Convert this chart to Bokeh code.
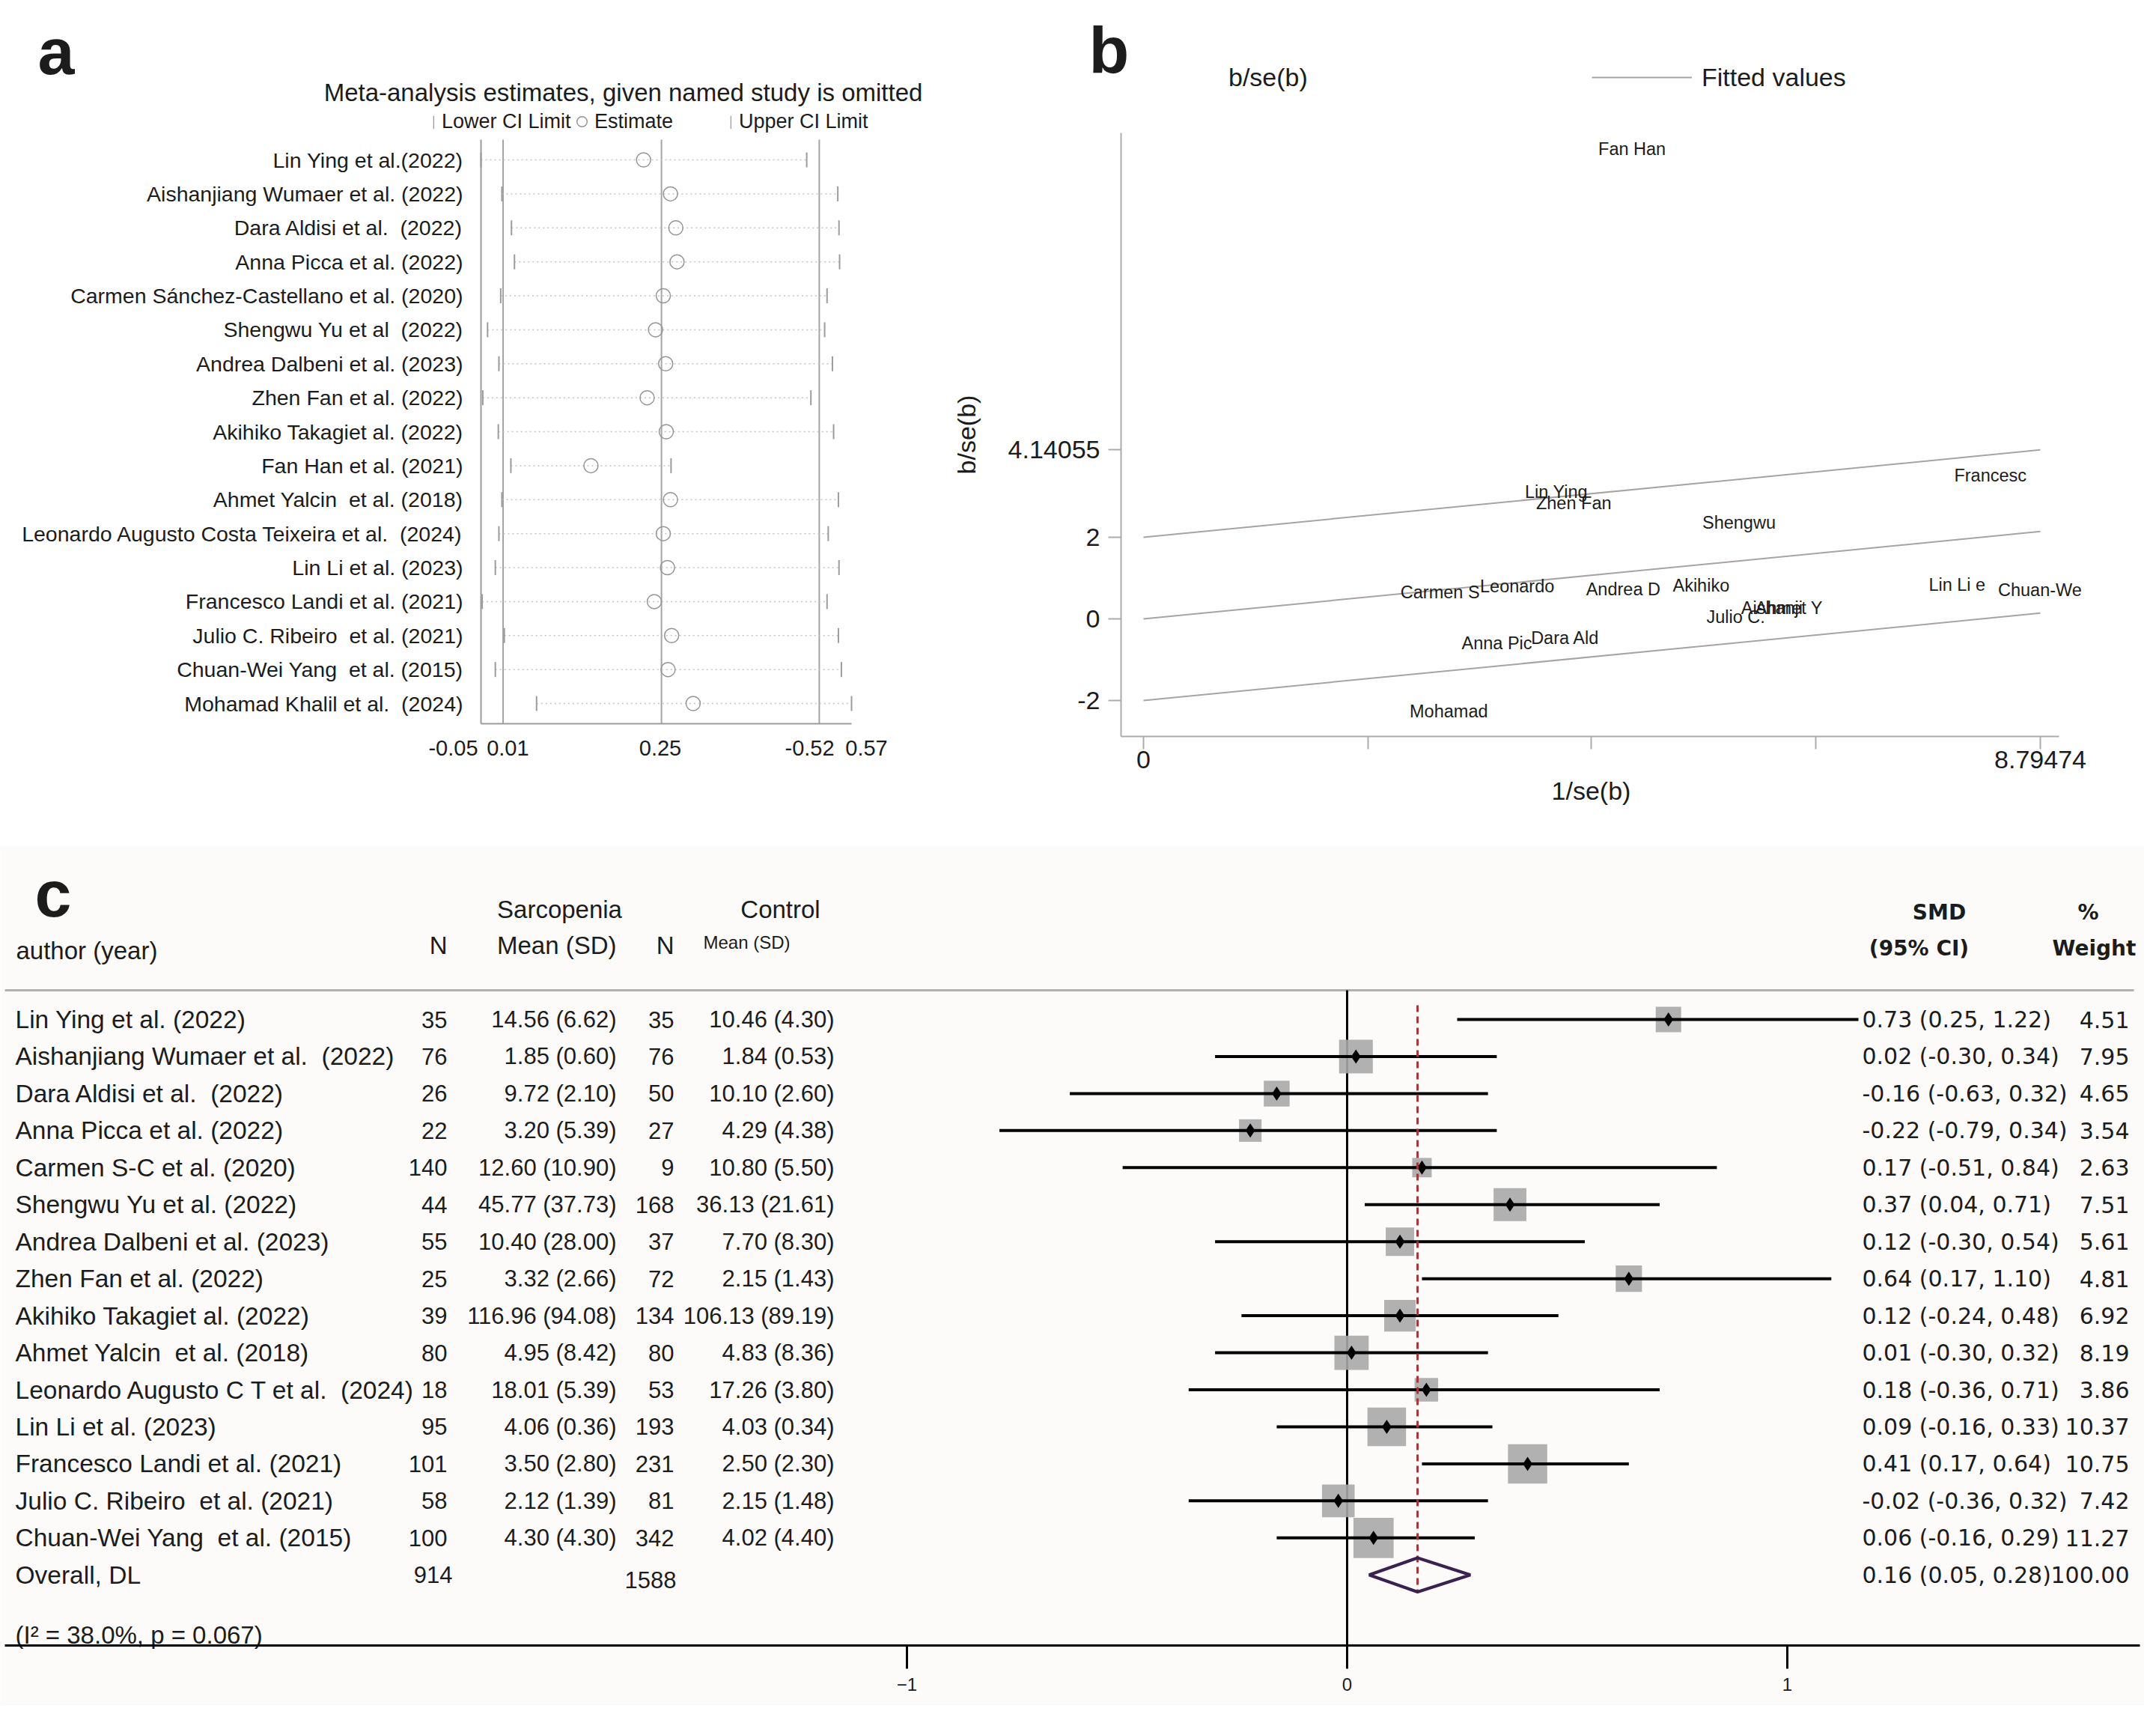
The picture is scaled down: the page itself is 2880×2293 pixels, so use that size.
import numpy as np
from bokeh.plotting import figure
from bokeh.models import Range1d, FixedTicker, Legend, LegendItem, LinearAxis
from bokeh.layouts import column, row
from bokeh.embed import file_html
from bokeh.resources import INLINE
from bokeh.core.properties import value

FONT = "Liberation Sans"
FONT_W = "DejaVu Sans"
INK = "#1c1c1c"
NB = "\u00a0"   # keeps the double spaces of the original labels

# ---------------- Panel a : leave-one-out (metaninf) ----------------
a_studies = [
    "Lin Ying et al.(2022)", "Aishanjiang Wumaer et al. (2022)", "Dara Aldisi et al. " + NB + "(2022)",
    "Anna Picca et al. (2022)", "Carmen Sánchez-Castellano et al. (2020)", "Shengwu Yu et al " + NB + "(2022)",
    "Andrea Dalbeni et al. (2023)", "Zhen Fan et al. (2022)", "Akihiko Takagiet al. (2022)",
    "Fan Han et al. (2021)", "Ahmet Yalcin " + NB + "et al. (2018)",
    "Leonardo Augusto Costa Teixeira et al. " + NB + "(2024)",
    "Lin Li et al. (2023)", "Francesco Landi et al. (2021)", "Julio C. Ribeiro " + NB + "et al. (2021)",
    "Chuan-Wei Yang " + NB + "et al. (2015)", "Mohamad Khalil et al. " + NB + "(2024)",
]
a_lower = [-0.050, -0.015, 0.001, 0.006, -0.017, -0.039, -0.020, -0.047, -0.021,
           0.000, -0.015, -0.020, -0.026, -0.048, -0.011, -0.026, 0.043]
a_est = [0.222, 0.267, 0.276, 0.278, 0.255, 0.242, 0.259, 0.228, 0.260,
         0.134, 0.267, 0.255, 0.262, 0.240, 0.269, 0.263, 0.305]
a_upper = [0.495, 0.547, 0.549, 0.550, 0.529, 0.525, 0.538, 0.502, 0.540,
           0.268, 0.548, 0.531, 0.549, 0.529, 0.548, 0.553, 0.570]
a_overall = [-0.013, 0.252, 0.516]          # overall lower CI, estimate, upper CI lines
a_xmin, a_xmax = -0.05, 0.57
a_tick_vals = [-0.05, 0.01, 0.25, 0.52, 0.57]
a_tick_text = ["-0.05", "0.01", "0.25", "-0.52", "0.57"]
a_title = "Meta-analysis estimates, given named study is omitted"
a_legend = ["Lower CI Limit", "Estimate", "Upper CI Limit"]

# ---------------- Panel b : Galbraith plot ----------------
b_names = ["Fan Han", "Lin Ying", "Zhen Fan", "Francesc", "Shengwu", "Carmen S", "Leonardo",
           "Andrea D", "Akihiko", "Lin Li e", "Chuan-We", "Julio C.", "Aishanji", "Ahmet Y",
           "Anna Pic", "Dara Ald", "Mohamad"]
b_invse = [4.46, 3.74, 3.85, 7.95, 5.48, 2.52, 3.30, 4.34, 5.19, 7.70, 8.38, 5.52, 5.86, 6.00,
           3.12, 3.80, 2.61]
b_z = [11.52, 3.11, 2.83, 3.51, 2.35, 0.65, 0.80, 0.72, 0.81, 0.84, 0.71, 0.04, 0.27, 0.27,
       -0.59, -0.46, -2.27]
b_xmax = 8.79474
b_fit_rise = 2.14055            # fitted value at x max (4.14055 - 2)
b_bands = [2, 0, -2]
b_yticks = [-2, 0, 2, 4.14055]
b_ytick_text = ["-2", "0", "2", "4.14055"]
b_xticks = [0, 2.2, 4.39, 6.59, 8.79474]
b_xtick_text = ["0", "", "", "", "8.79474"]

# ---------------- Panel c : forest plot ----------------
c_names = ["Lin Ying et al. (2022)", "Aishanjiang Wumaer et al. " + NB + "(2022)",
           "Dara Aldisi et al. " + NB + "(2022)", "Anna Picca et al. (2022)", "Carmen S-C et al. (2020)",
           "Shengwu Yu et al. (2022)", "Andrea Dalbeni et al. (2023)", "Zhen Fan et al. (2022)",
           "Akihiko Takagiet al. (2022)", "Ahmet Yalcin " + NB + "et al. (2018)",
           "Leonardo Augusto C T et al. " + NB + "(2024)", "Lin Li et al. (2023)",
           "Francesco Landi et al. (2021)", "Julio C. Ribeiro " + NB + "et al. (2021)",
           "Chuan-Wei Yang " + NB + "et al. (2015)"]
c_n_sar = [35, 76, 26, 22, 140, 44, 55, 25, 39, 80, 18, 95, 101, 58, 100]
c_mean_sar = [14.56, 1.85, 9.72, 3.20, 12.60, 45.77, 10.40, 3.32, 116.96, 4.95, 18.01, 4.06, 3.50, 2.12, 4.30]
c_sd_sar = [6.62, 0.60, 2.10, 5.39, 10.90, 37.73, 28.00, 2.66, 94.08, 8.42, 5.39, 0.36, 2.80, 1.39, 4.30]
c_n_ctl = [35, 76, 50, 27, 9, 168, 37, 72, 134, 80, 53, 193, 231, 81, 342]
c_mean_ctl = [10.46, 1.84, 10.10, 4.29, 10.80, 36.13, 7.70, 2.15, 106.13, 4.83, 17.26, 4.03, 2.50, 2.15, 4.02]
c_sd_ctl = [4.30, 0.53, 2.60, 4.38, 5.50, 21.61, 8.30, 1.43, 89.19, 8.36, 3.80, 0.34, 2.30, 1.48, 4.40]
c_smd = [0.73, 0.02, -0.16, -0.22, 0.17, 0.37, 0.12, 0.64, 0.12, 0.01, 0.18, 0.09, 0.41, -0.02, 0.06]
c_lo = [0.25, -0.30, -0.63, -0.79, -0.51, 0.04, -0.30, 0.17, -0.24, -0.30, -0.36, -0.16, 0.17, -0.36, -0.16]
c_hi = [1.22, 0.34, 0.32, 0.34, 0.84, 0.71, 0.54, 1.10, 0.48, 0.32, 0.71, 0.33, 0.64, 0.32, 0.29]
c_weight = [4.51, 7.95, 4.65, 3.54, 2.63, 7.51, 5.61, 4.81, 6.92, 8.19, 3.86, 10.37, 10.75, 7.42, 11.27]
c_overall = [0.16, 0.05, 0.28]     # SMD, lower, upper
c_overall_weight = 100.00
c_i2 = 38.0
c_p = 0.067
c_xticks = [-1, 0, 1]


# ---------------- helpers (page pixel geometry -> data units) ----------------
def lin(p0, v0, p1, v1):
    return lambda p: v0 + (p - p0) * (v1 - v0) / (p1 - p0)


def make_fig(ox, oy, w, h, fx, fy, bg="white"):
    p = figure(width=w, height=h, x_range=Range1d(fx(ox), fx(ox + w)),
               y_range=Range1d(fy(oy + h), fy(oy)), x_axis_location=None, y_axis_location=None,
               min_border=0, min_border_left=0, min_border_right=0, min_border_top=0,
               min_border_bottom=0, output_backend="svg", toolbar_location=None,
               background_fill_color=bg, border_fill_color=bg)
    p.outline_line_color = None
    p.grid.visible = False
    return p


def style_axis(axis, color, font_size, width=2, tick_out=0):
    axis.axis_line_color = color
    axis.axis_line_width = width
    axis.major_tick_line_color = color if tick_out else None
    axis.major_tick_line_width = width
    axis.major_tick_out = tick_out
    axis.major_tick_in = 0
    axis.minor_tick_line_color = None
    axis.major_label_text_font = FONT
    axis.major_label_text_font_size = font_size
    axis.major_label_text_color = INK


def txt(p, xs, ys, texts, size, align="left", font=FONT, bold=False, baseline="middle",
        angle=0.0, xoff=0):
    p.text(x=list(xs), y=list(ys), text=list(texts), text_align=align, text_baseline=baseline,
           text_font=value(font), text_font_size=value(size), text_color=INK,
           text_font_style="bold" if bold else "normal", angle=angle,
           x_offset=xoff if np.isscalar(xoff) else list(xoff))


# ================= Panel a =================
ax = lin(650, a_xmin, 1145, a_xmax)
ay = lin(221, 1, 221 + 45.375, 2)
pa = make_fig(8, 8, 1270, 1130, ax, ay)
a_rows = list(range(1, len(a_studies) + 1))
a_top, a_bot = ay(194), ay(974)
GRAY_A = "#9c9c9c"

pa.segment(x0=a_overall, y0=[a_top] * 3, x1=a_overall, y1=[a_bot] * 3, line_color="#a5a5a5",
           line_width=2)
pa.segment(x0=a_lower, y0=a_rows, x1=a_upper, y1=a_rows, line_color="#c4c4c4",
           line_width=1.5, line_dash="2 4")
r_lo = pa.rect(x=a_lower, y=a_rows, width=2, height=20, width_units="screen",
               height_units="screen", fill_color=GRAY_A, line_color=None)
r_up = pa.rect(x=a_upper, y=a_rows, width=2, height=20, width_units="screen",
               height_units="screen", fill_color=GRAY_A, line_color=None)
r_est = pa.scatter(a_est, a_rows, marker="circle", size=19, fill_color=None,
                   line_color="#959595", line_width=1.5)

ya = LinearAxis(fixed_location=a_xmin, bounds=(min(a_top, a_bot), max(a_top, a_bot)),
                ticker=FixedTicker(ticks=a_rows))
ya.major_label_overrides = {r: s for r, s in zip(a_rows, a_studies)}
style_axis(ya, GRAY_A, "28.5px")
ya.major_label_standoff = 24
pa.add_layout(ya, "left")
xa = LinearAxis(fixed_location=a_bot, bounds=(a_xmin, a_xmax), ticker=FixedTicker(ticks=[]))
style_axis(xa, GRAY_A, "28px")
pa.add_layout(xa, "below")

txt(pa, [ax(58)], [ay(76)], ["a"], "88px", bold=True)
txt(pa, [ax(840)], [ay(131)], [a_title], "33px", align="center")
txt(pa, a_tick_vals, [ay(1006)] * len(a_tick_vals), a_tick_text, "29px",
    align="center", xoff=[-37, -12, 0, -16, 20])

leg_common = dict(orientation="horizontal", padding=0, margin=0, spacing=0,
                  border_line_color=None, background_fill_alpha=0, label_text_font=FONT,
                  label_text_font_size="27px", label_text_color=INK)
pa.add_layout(Legend(items=[LegendItem(label=value(a_legend[0]), renderers=[r_lo])],
                     location=(578, 952), glyph_width=2, glyph_height=22, label_height=22,
                     label_standoff=10, **leg_common))
pa.add_layout(Legend(items=[LegendItem(label=value(a_legend[1]), renderers=[r_est])],
                     location=(760, 951), glyph_width=34, glyph_height=34, label_height=34,
                     label_standoff=0, **leg_common))
pa.add_layout(Legend(items=[LegendItem(label=value(a_legend[2]), renderers=[r_up])],
                     location=(975, 952), glyph_width=2, glyph_height=22, label_height=22,
                     label_standoff=10, **leg_common))

# ================= Panel b =================
bx = lin(1535, 0, 2733, b_xmax)
by = lin(834, 0, 725, 2)
pb = make_fig(1278, 8, 1594, 1130, bx, by)
GRAY_B = "#b0abab"
b_left, b_right, b_top, b_bot = bx(1505), bx(2758), by(185), by(991)

fit_renderers = []
for off in b_bands:
    fit_renderers.append(pb.line([0, b_xmax], [off, off + b_fit_rise], line_color="#a9a3a3",
                                 line_width=2))
r_pts = pb.scatter(b_invse, b_z, size=1, fill_alpha=0, line_alpha=0)
txt(pb, b_invse, b_z, b_names, "23.5px")

yb = LinearAxis(fixed_location=b_left, bounds=(b_bot, b_top), ticker=FixedTicker(ticks=b_yticks))
yb.major_label_overrides = {t: s for t, s in zip(b_yticks, b_ytick_text)}
style_axis(yb, GRAY_B, "34px", tick_out=17)
yb.major_label_standoff = 11
pb.add_layout(yb, "left")
xb = LinearAxis(fixed_location=b_bot, bounds=(b_left, b_right), ticker=FixedTicker(ticks=b_xticks))
xb.major_label_overrides = {t: s for t, s in zip(b_xticks, b_xtick_text)}
style_axis(xb, GRAY_B, "34px", tick_out=17)
xb.major_label_standoff = 2
pb.add_layout(xb, "below")

txt(pb, [bx(1298)], [by(588)], ["b/se(b)"], "34px", align="center", angle=np.pi / 2)
txt(pb, [bx(2133)], [by(1063)], ["1/se(b)"], "34px", align="center")
txt(pb, [bx(1462)], [by(74)], ["b"], "88px", bold=True)
pb.add_layout(Legend(items=[LegendItem(label=value("b/se(b)"), renderers=[r_pts]),
                            LegendItem(label=value("Fitted values"), renderers=[fit_renderers[1]])],
                     orientation="horizontal", location=(224, 1007), glyph_width=134,
                     glyph_height=40, label_height=40, label_width=485, label_standoff=13,
                     spacing=0, padding=0, margin=0, border_line_color=None,
                     background_fill_alpha=0, label_text_font=FONT, label_text_font_size="34px",
                     label_text_color=INK))

# ================= Panel c =================
cx = lin(1807, 0, 2395, 1)
cy = lin(1369, 1, 1369 + 49.45, 2)
pc = make_fig(8, 1138, 2864, 1147, cx, cy, bg="#fcfbfa")
c_rows = np.arange(1, len(c_names) + 1)
ov_row = len(c_names) + 1
c_axis_y = cy(2205)

# lines
pc.segment(x0=[cx(14)], y0=[cy(1330)], x1=[cx(2858)], y1=[cy(1330)], line_color="#b5b0ae",
           line_width=3)
pc.segment(x0=[0], y0=[cy(1330)], x1=[0], y1=[c_axis_y], line_color="black", line_width=3)
ci_clip = cx(2490)
pc.scatter(c_smd, c_rows, marker="square", size=np.sqrt(c_weight) * 16, fill_color="#a8a8a8",
           fill_alpha=0.9, line_color=None)
pc.segment(x0=c_lo, y0=c_rows, x1=np.minimum(c_hi, ci_clip), y1=c_rows, line_color="black",
           line_width=4)
pc.scatter(c_smd, c_rows, marker="diamond", size=19, fill_color="black", line_color=None)
pc.segment(x0=[c_overall[0]], y0=[cy(1350)], x1=[c_overall[0]], y1=[cy(2132)],
           line_color="#a3343a", line_width=3, line_dash="9 6")
pc.patch([c_overall[1], c_overall[0], c_overall[2], c_overall[0]],
         [ov_row, ov_row - 0.46, ov_row, ov_row + 0.46], fill_alpha=0,
         line_color="#3a2150", line_width=4)

# axis
xc = LinearAxis(fixed_location=c_axis_y, bounds=(cx(14), cx(2866)), ticker=FixedTicker(ticks=c_xticks))
style_axis(xc, "black", "24px", width=3, tick_out=31)
xc.major_label_standoff = 12
pc.add_layout(xc, "below")

# header
txt(pc, [cx(54)], [cy(1201)], ["c"], "88px", bold=True)
txt(pc, [cx(755), cx(1050)], [cy(1222)] * 2, ["Sarcopenia", "Control"], "33px", align="center")
txt(pc, [cx(29)], [cy(1277)], ["author (year)"], "33px")
txt(pc, [cx(605), cx(831), cx(908)], [cy(1270)] * 3, ["N", "Mean (SD)", "N"], "33px", align="right")
txt(pc, [cx(1005)], [cy(1266)], ["Mean (SD)"], "24px", align="center")
txt(pc, [cx(2598), cx(2797)], [cy(1226)] * 2, ["SMD", "%"], "28px", align="center",
    font=FONT_W, bold=True)
txt(pc, [cx(2571), cx(2805)], [cy(1274)] * 2, ["(95% CI)", "Weight"], "28px",
    align="center", font=FONT_W, bold=True)

# rows
nr = len(c_names)
txt(pc, [cx(28)] * nr, c_rows, c_names, "33.5px")
txt(pc, [cx(605)] * nr, c_rows, [str(n) for n in c_n_sar], "31px", align="right")
txt(pc, [cx(831)] * nr, c_rows, [f"{m:.2f} ({s:.2f})" for m, s in zip(c_mean_sar, c_sd_sar)],
    "31px", align="right")
txt(pc, [cx(908)] * nr, c_rows, [str(n) for n in c_n_ctl], "31px", align="right")
txt(pc, [cx(1122)] * nr, c_rows, [f"{m:.2f} ({s:.2f})" for m, s in zip(c_mean_ctl, c_sd_ctl)],
    "31px", align="right")
smd_txt = [f"{e:.2f} ({l:.2f}, {h:.2f})" for e, l, h in zip(c_smd, c_lo, c_hi)]
smd_txt.append(f"{c_overall[0]:.2f} ({c_overall[1]:.2f}, {c_overall[2]:.2f})")
w_txt = [f"{w:.2f}" for w in c_weight] + [f"{c_overall_weight:.2f}"]
all_rows = list(c_rows) + [ov_row]
txt(pc, [cx(2495)] * len(all_rows), all_rows, smd_txt, "30px", font=FONT_W)
txt(pc, [cx(2852)] * len(all_rows), all_rows, w_txt, "30px", font=FONT_W, align="right")

# overall rows
txt(pc, [cx(28)], [ov_row], ["Overall, DL"], "33.5px")
txt(pc, [cx(612)], [ov_row], [str(sum(c_n_sar))], "31px", align="right")
txt(pc, [cx(911)], [ov_row + 0.13], [str(sum(c_n_ctl))], "31px", align="right")
txt(pc, [cx(28)], [cy(2191)], [f"(I² = {c_i2:.1f}%, p = {c_p:.3f})"], "33px")

layout = column(row(pa, pb), pc)
open("out.html", "w").write(file_html(layout, INLINE))
